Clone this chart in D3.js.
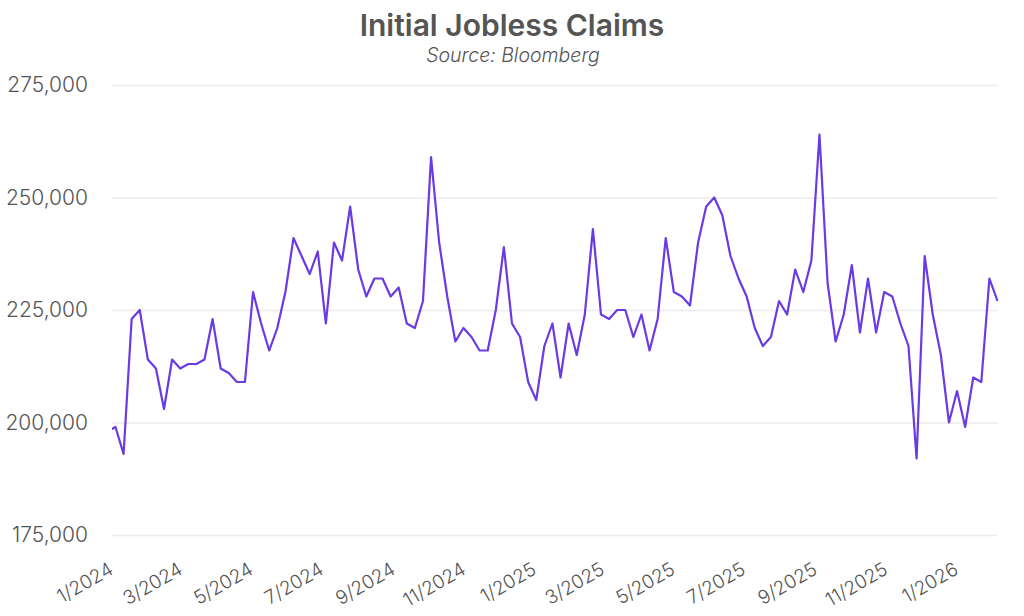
<!DOCTYPE html>
<html>
<head>
<meta charset="utf-8">
<script src="https://cdn.jsdelivr.net/npm/d3@7"></script>
<style>
  body { margin: 0; background: #ffffff; }
  svg { display: block; }
</style>
</head>
<body>
<svg id="chart" width="1024" height="616"></svg>
<script>
// ---- Data (weekly initial jobless claims) ----
const weekDates = [
  "2023-12-28",
  "2024-01-04","2024-01-11","2024-01-18","2024-01-25","2024-02-01","2024-02-08","2024-02-15","2024-02-22","2024-02-29",
  "2024-03-07","2024-03-14","2024-03-21","2024-03-28","2024-04-04","2024-04-11","2024-04-18","2024-04-25",
  "2024-05-02","2024-05-09","2024-05-16","2024-05-23","2024-05-30","2024-06-06","2024-06-13","2024-06-20","2024-06-27",
  "2024-07-04","2024-07-11","2024-07-18","2024-07-25","2024-08-01","2024-08-08","2024-08-15","2024-08-22","2024-08-29",
  "2024-09-05","2024-09-12","2024-09-19","2024-09-26","2024-10-03","2024-10-10","2024-10-17","2024-10-24","2024-10-31",
  "2024-11-07","2024-11-14","2024-11-21","2024-11-28","2024-12-05","2024-12-12","2024-12-19","2024-12-26",
  "2025-01-02","2025-01-09","2025-01-16","2025-01-23","2025-01-30","2025-02-06","2025-02-13","2025-02-20","2025-02-27",
  "2025-03-06","2025-03-13","2025-03-20","2025-03-27","2025-04-03","2025-04-10","2025-04-17","2025-04-24",
  "2025-05-01","2025-05-08","2025-05-15","2025-05-22","2025-05-29","2025-06-05","2025-06-12","2025-06-19","2025-06-26",
  "2025-07-03","2025-07-10","2025-07-17","2025-07-24","2025-07-31","2025-08-07","2025-08-14","2025-08-21","2025-08-28",
  "2025-09-04","2025-09-11","2025-09-18","2025-09-25","2025-10-02","2025-10-09","2025-10-16","2025-10-23","2025-10-30",
  "2025-11-06","2025-11-13","2025-11-20","2025-11-27","2025-12-04","2025-12-11","2025-12-18","2025-12-25",
  "2026-01-01","2026-01-08","2026-01-15","2026-01-22","2026-01-29","2026-02-05"
];
const claims = [
  198000,
  199000,193000,223000,225000,214000,212000,203000,214000,212000,
  213000,213000,214000,223000,212000,211000,209000,209000,
  229000,222000,216000,221000,229000,241000,237000,233000,238000,
  222000,240000,236000,248000,234000,228000,232000,232000,228000,
  230000,222000,221000,227000,259000,240000,228000,218000,221000,
  219000,216000,216000,225000,239000,222000,219000,209000,
  205000,217000,222000,210000,222000,215000,224000,243000,224000,
  223000,225000,225000,219000,224000,216000,223000,241000,
  229000,228000,226000,240000,248000,250000,246000,237000,232000,
  228000,221000,217000,219000,227000,224000,234000,229000,236000,
  264000,231000,218000,224000,235000,220000,232000,220000,229000,
  228000,222000,217000,192000,237000,224000,215000,200000,
  207000,199000,210000,209000,232000,227000
];
const yTickValues = [175000, 200000, 225000, 250000, 275000];
const xTickDates = ["2024-01-01","2024-03-01","2024-05-01","2024-07-01","2024-09-01","2024-11-01",
                    "2025-01-01","2025-03-01","2025-05-01","2025-07-01","2025-09-01","2025-11-01","2026-01-01"];
const xDomain = ["2024-01-01", "2026-02-05"];
const titleText = "Initial Jobless Claims";
const subtitleText = "Source: Bloomberg";

// ---- Chart ----
const parse = d3.utcParse("%Y-%m-%d");
const data = weekDates.map((d, i) => ({ date: parse(d), value: claims[i] }));

const W = 1024, H = 616;
const plot = { left: 112, right: 997.5, top: 85, bottom: 535 };

const svg = d3.select("#chart");
const FONT = "Inter, 'Noto Sans', sans-serif";
const TEXT = "#555555";

const x = d3.scaleUtc().domain(xDomain.map(parse)).range([plot.left, plot.right]);
const y = d3.scaleLinear().domain([175000, 275000]).range([plot.bottom, plot.top]);

// Title
svg.append("text")
  .attr("x", 512).attr("y", 36)
  .attr("text-anchor", "middle")
  .attr("font-family", FONT).attr("font-weight", 600).attr("font-size", 30)
  .attr("fill", TEXT)
  .text(titleText);
svg.append("text")
  .attr("x", 513).attr("y", 62)
  .attr("text-anchor", "middle")
  .attr("font-family", FONT).attr("font-style", "italic").attr("font-weight", 300).attr("font-size", 19.5)
  .attr("fill", TEXT)
  .text(subtitleText);

// Y axis with gridlines
const yAxis = d3.axisLeft(y)
  .tickValues(yTickValues)
  .tickFormat(d3.format(","))
  .tickSize(-(plot.right - plot.left))
  .tickPadding(24);
const gy = svg.append("g").attr("transform", `translate(${plot.left},0)`).call(yAxis);
gy.select(".domain").remove();
gy.selectAll(".tick line").attr("stroke", "#ebebeb").attr("stroke-width", 1.5);
gy.selectAll(".tick text")
  .attr("font-family", FONT).attr("font-weight", 300).attr("font-size", 21)
  .attr("fill", TEXT);

// X axis (labels only)
const xAxis = d3.axisBottom(x)
  .tickValues(xTickDates.map(parse))
  .tickFormat(d3.utcFormat("%-m/%Y"))
  .tickSize(0);
const gx = svg.append("g").attr("transform", `translate(0,${plot.bottom})`).call(xAxis);
gx.select(".domain").remove();
gx.selectAll(".tick text")
  .attr("font-family", FONT).attr("font-weight", 300).attr("font-size", 19)
  .attr("fill", TEXT)
  .attr("text-anchor", "end")
  .attr("dy", null).attr("y", null)
  .attr("transform", "translate(2,38) rotate(-30)");

// Clip + line
svg.append("clipPath").attr("id", "plotclip")
  .append("rect")
  .attr("x", plot.left).attr("y", 0)
  .attr("width", plot.right - plot.left + 2).attr("height", H);

const line = d3.line().x(d => x(d.date)).y(d => y(d.value));
svg.append("path")
  .datum(data)
  .attr("clip-path", "url(#plotclip)")
  .attr("fill", "none")
  .attr("stroke", "#6a3ae4")
  .attr("stroke-width", 2.2)
  .attr("stroke-linejoin", "round")
  .attr("d", line);
</script>
</body>
</html>
